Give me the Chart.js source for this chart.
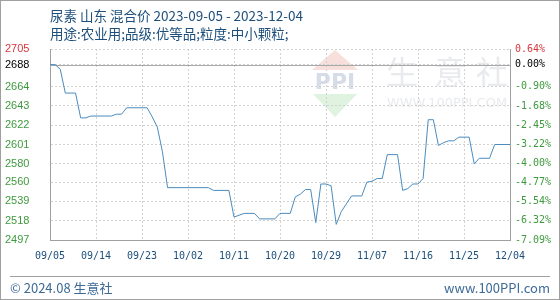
<!DOCTYPE html>
<html>
<head>
<meta charset="utf-8">
<script src="https://cdn.jsdelivr.net/npm/chart.js@4.4.1/dist/chart.umd.min.js"></script>
<style>
  html, body { margin: 0; padding: 0; background: #fff; }
  canvas { display: block; }
</style>
</head>
<body>
<canvas id="priceChart" width="560" height="300"></canvas>
<script>
// 尿素 山东 混合价, 2023-09-05 .. 2023-12-04
const dates = [
  "2023-09-05", "2023-09-06", "2023-09-07", "2023-09-08", "2023-09-10", "2023-09-11",
  "2023-09-12", "2023-09-13", "2023-09-17", "2023-09-18", "2023-09-19", "2023-09-20",
  "2023-09-24", "2023-09-25", "2023-09-26", "2023-09-27", "2023-09-28", "2023-10-06",
  "2023-10-07", "2023-10-10", "2023-10-11", "2023-10-13", "2023-10-15", "2023-10-16",
  "2023-10-19", "2023-10-20", "2023-10-22", "2023-10-23", "2023-10-24", "2023-10-25",
  "2023-10-26", "2023-10-27", "2023-10-28", "2023-10-29", "2023-10-30", "2023-10-31",
  "2023-11-01", "2023-11-03", "2023-11-05", "2023-11-06", "2023-11-07", "2023-11-08",
  "2023-11-09", "2023-11-10", "2023-11-12", "2023-11-13", "2023-11-14", "2023-11-15",
  "2023-11-16", "2023-11-17", "2023-11-18", "2023-11-19", "2023-11-20", "2023-11-21",
  "2023-11-22", "2023-11-23", "2023-11-24", "2023-11-26", "2023-11-27", "2023-11-28",
  "2023-11-30", "2023-12-01", "2023-12-04"
];
const prices = [
  2688, 2688, 2683, 2657, 2657, 2630,
  2630, 2632, 2632, 2634, 2634, 2641,
  2641, 2631, 2620, 2593, 2554, 2554,
  2551, 2551, 2522, 2526, 2526, 2520,
  2520, 2526, 2526, 2544, 2547, 2552,
  2552, 2516, 2558, 2558, 2556, 2514,
  2528, 2545, 2545, 2560, 2561, 2564,
  2564, 2590, 2590, 2551, 2553, 2558,
  2558, 2564, 2628, 2628, 2600, 2603,
  2605, 2605, 2609, 2609, 2580, 2586,
  2586, 2601, 2601
];

const startDate = "2023-09-05";
const endDate = "2023-12-04";
const basePrice = 2688;
const yMin = 2497;
const yMax = 2705;
const leftTicks = [2497, 2518, 2539, 2560, 2580, 2601, 2622, 2643, 2664, 2688, 2705];
const rightTickLabels = ["-7.09%", "-6.32%", "-5.54%", "-4.77%", "-4.00%", "-3.22%",
                         "-2.45%", "-1.68%", "-0.90%", "0.00%", "0.64%"];
const xTickDates = ["2023-09-05", "2023-09-14", "2023-09-23", "2023-10-02", "2023-10-11",
                    "2023-10-20", "2023-10-29", "2023-11-07", "2023-11-16", "2023-11-25",
                    "2023-12-04"];

const titleLine1 = "尿素 山东 混合价 2023-09-05 - 2023-12-04";
const titleLine2 = "用途:农业用;品级:优等品;粒度:中小颗粒;";
const footLeft = "© 2024.08 生意社";
const footRight = "www.100PPI.com";

const dayOf = (d) => (Date.parse(d) - Date.parse(startDate)) / 86400000;
const mmdd = (d) => d.slice(5).replace("-", "/");

const GREEN = "#3f9a3f";
const RED = "#d8363c";
const tickColor = (value) => value === yMax ? RED : (value === basePrice ? "#000" : GREEN);

const decor = {
    id: "decor",
    beforeDraw(chart) {
        const { ctx } = chart;
        ctx.save();
        ctx.fillStyle = "#fff";
        ctx.fillRect(0, 0, chart.width, chart.height);

        // watermark logo
        ctx.fillStyle = "#f7e0db";
        ctx.beginPath();
        ctx.moveTo(335, 50); ctx.lineTo(358, 70); ctx.lineTo(312, 70); ctx.closePath();
        ctx.fill();
        ctx.fillStyle = "#e0f2e0";
        ctx.beginPath();
        ctx.moveTo(313, 94); ctx.lineTo(357, 94); ctx.lineTo(335, 117); ctx.closePath();
        ctx.fill();
        ctx.fillStyle = "#d6dde9";
        ctx.font = "bold 22px 'DejaVu Sans'";
        ctx.textAlign = "center";
        ctx.textBaseline = "middle";
        ctx.fillText("PPI", 335, 83);

        // watermark text
        ctx.fillStyle = "#e8eaed";
        ctx.font = "32px 'Noto Sans CJK SC'";
        ctx.fillText("生", 402, 72);
        ctx.fillText("意", 450, 72);
        ctx.fillText("社", 492, 72);
        ctx.font = "13px 'DejaVu Sans'";
        ctx.fillText("WWW.100PPI.COM", 447, 104);
        ctx.restore();
    },
    beforeDatasetsDraw(chart) {
        const { ctx, chartArea } = chart;
        const y = Math.round(chart.scales.y.getPixelForValue(basePrice)) + 0.5;
        ctx.save();
        ctx.strokeStyle = "#a8a8a8";
        ctx.lineWidth = 1;
        ctx.beginPath();
        ctx.moveTo(chartArea.left, y);
        ctx.lineTo(chartArea.right, y);
        ctx.stroke();
        ctx.restore();
    },
    afterDraw(chart) {
        const { ctx } = chart;
        ctx.save();
        ctx.fillStyle = "#1d4f7c";
        ctx.font = "13.5px 'Noto Sans CJK SC'";
        ctx.textAlign = "left";
        ctx.textBaseline = "middle";
        ctx.fillText(titleLine1, 50, 16);
        ctx.fillText(titleLine2, 50, 34);

        ctx.strokeStyle = "#a0a0a0";
        ctx.lineWidth = 1;
        ctx.beginPath();
        ctx.moveTo(10, 276.5);
        ctx.lineTo(550, 276.5);
        ctx.stroke();
        ctx.strokeRect(0.5, 0.5, chart.width - 1, chart.height - 1);

        ctx.fillStyle = "#3d6a96";
        ctx.font = "13px 'Noto Sans CJK SC'";
        ctx.fillText(footLeft, 10, 288);
        ctx.textAlign = "right";
        ctx.fillText(footRight, 550, 288);
        ctx.restore();
    }
};

new Chart(document.querySelector("#priceChart"), {
    type: "line",
    data: {
        datasets: [{
            data: dates.map((d, i) => ({ x: dayOf(d), y: prices[i] })),
            borderColor: "#4a8cbf",
            borderWidth: 1,
            pointRadius: 0,
            tension: 0,
            fill: false
        }]
    },
    options: {
        responsive: false,
        animation: false,
        devicePixelRatio: 1,
        layout: { padding: { left: 5, right: 0, top: 49, bottom: 35 } },
        plugins: { legend: { display: false }, tooltip: { enabled: false } },
        scales: {
            x: {
                type: "linear",
                min: 0,
                max: dayOf(endDate),
                afterBuildTicks: (s) => { s.ticks = xTickDates.map((d) => ({ value: dayOf(d) })); },
                afterFit: (s) => { s.height = 25; },
                ticks: {
                    autoSkip: false,
                    maxRotation: 0,
                    padding: 10,
                    color: "#1d4f7c",
                    font: { family: "'DejaVu Sans Mono'", size: 10 },
                    callback: (v, i) => mmdd(xTickDates[i])
                },
                grid: { color: "#d2d2d2", drawTicks: false },
                border: { color: "#a0a0a0", dash: [2, 2] }
            },
            y: {
                position: "left",
                min: yMin,
                max: yMax,
                afterBuildTicks: (s) => { s.ticks = leftTicks.map((v) => ({ value: v })); },
                afterFit: (s) => { s.width = 45; },
                ticks: {
                    autoSkip: false,
                    crossAlign: "far",
                    padding: 0,
                    font: { family: "'Liberation Sans'", size: 11 },
                    color: (c) => tickColor(c.tick.value),
                    callback: (v) => String(v)
                },
                grid: { color: "#d2d2d2", drawTicks: false },
                border: { color: "#a0a0a0", dash: [2, 2] }
            },
            y2: {
                position: "right",
                min: yMin,
                max: yMax,
                afterBuildTicks: (s) => { s.ticks = leftTicks.map((v) => ({ value: v })); },
                afterFit: (s) => { s.width = 50; },
                ticks: {
                    autoSkip: false,
                    padding: 5,
                    font: { family: "'DejaVu Sans Mono'", size: 10 },
                    color: (c) => tickColor(c.tick.value),
                    callback: (v, i) => rightTickLabels[i]
                },
                grid: { display: false, drawTicks: false },
                border: { color: "#a0a0a0" }
            }
        }
    },
    plugins: [decor]
});
</script>
</body>
</html>
